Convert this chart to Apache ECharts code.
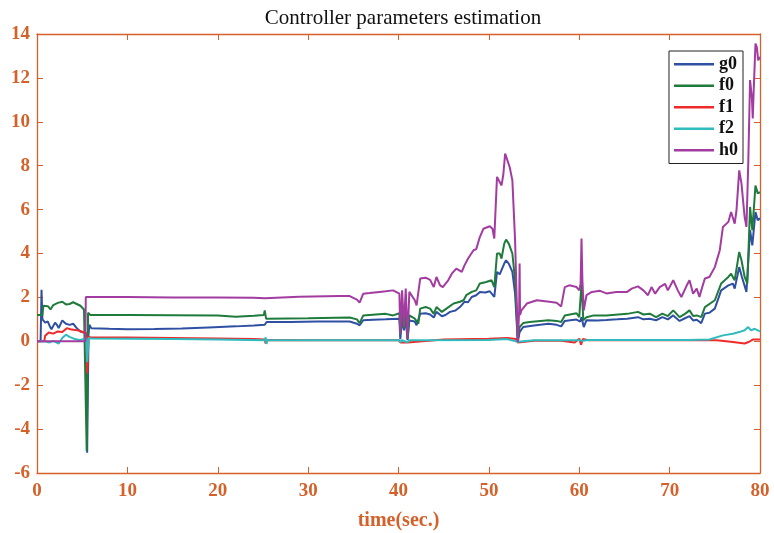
<!DOCTYPE html>
<html>
<head>
<meta charset="utf-8">
<script src="https://cdn.jsdelivr.net/npm/echarts@6/dist/echarts.min.js"></script>
<style>html,body{margin:0;padding:0;background:#fff}#c{width:774px;height:533px}</style>
</head>
<body>
<div id="c"></div>
<script>
const seriesNames = ['g0','f0','f1','f2','h0'];
const xTicks = [0,10,20,30,40,50,60,70,80];
const yTicks = [-6,-4,-2,0,2,4,6,8,10,12,14];

const g0 = [[0,0],[0.4,0],[0.5,2.35],[0.6,1.0],[0.9,0.85],[1.2,0.9],[1.4,0.7],[1.6,0.55],[2.0,0.85],[2.2,0.75],[2.4,0.6],[2.8,0.95],[3.2,0.8],[3.6,0.75],[4.0,0.8],[4.4,0.6],[4.8,0.45],[5.2,0.4],[5.45,0.35],[5.55,-5.08],[5.7,0.3],[5.8,0.75],[6.0,0.6],[8,0.57],[10,0.55],[13,0.56],[16,0.58],[19,0.63],[22,0.68],[24,0.72],[25.2,0.75],[25.4,0.88],[28,0.88],[31,0.9],[34.6,0.9],[35.4,0.8],[35.7,0.73],[36.1,0.96],[37.2,0.98],[38.6,1.0],[40.1,1.03],[40.2,0.1],[40.4,1.03],[40.6,0.5],[40.8,1.03],[41.0,0.05],[41.2,0.95],[41.8,0.9],[42.0,0.73],[42.4,1.26],[43.0,1.28],[43.5,1.22],[43.9,1.08],[44.2,1.34],[44.8,1.14],[45.2,1.2],[45.7,1.34],[46.3,1.4],[46.8,1.56],[47.3,1.8],[47.7,1.78],[48.1,2.02],[48.6,2.1],[49.0,2.25],[49.6,2.22],[50.1,2.28],[50.6,2.02],[50.9,3.16],[51.2,3.05],[51.7,3.54],[51.9,3.69],[52.2,3.54],[52.6,3.16],[52.9,2.17],[53.2,-0.03],[53.4,0.42],[53.8,0.65],[55.0,0.72],[56.6,0.8],[57.5,0.75],[58.0,0.68],[58.4,0.93],[59.0,0.96],[59.7,0.99],[60.1,0.9],[60.25,1.1],[60.5,0.65],[60.8,0.96],[62,0.95],[63,0.97],[64.2,1.0],[65.3,1.03],[66.5,1.1],[67.1,1.0],[67.8,1.03],[68.5,0.96],[69.2,1.1],[69.8,1.0],[70.4,1.18],[71.1,0.93],[71.7,1.05],[72.2,1.15],[72.6,0.95],[73.0,0.98],[73.5,0.83],[73.9,1.26],[74.4,1.3],[75.0,1.49],[75.7,2.32],[76.5,2.55],[77.0,2.63],[77.2,2.4],[77.7,3.38],[78.0,2.93],[78.5,2.25],[78.9,5.06],[79.15,4.37],[79.5,5.89],[79.75,5.52],[80,5.6]];

const f0 = [[0,1.2],[0.6,1.2],[0.7,1.62],[1.2,1.6],[1.5,1.45],[1.8,1.65],[2.3,1.75],[2.8,1.8],[3.2,1.68],[3.6,1.7],[4.0,1.78],[4.4,1.7],[4.8,1.62],[5.2,1.45],[5.4,1.38],[5.5,-5.0],[5.65,1.3],[5.9,1.2],[10,1.2],[15,1.19],[20,1.18],[22,1.12],[24,1.16],[25.1,1.2],[25.2,1.41],[25.35,1.03],[30,1.05],[34.6,1.08],[35.4,1.0],[35.7,0.83],[36.1,1.18],[37.5,1.22],[38.6,1.25],[39.4,1.18],[40.1,1.28],[40.2,0.35],[40.4,1.28],[40.6,0.6],[40.8,1.25],[41.0,0.12],[41.2,1.18],[41.8,1.03],[42.2,0.8],[42.4,1.49],[43.0,1.56],[43.5,1.49],[43.9,1.25],[44.2,1.56],[44.8,1.34],[45.3,1.49],[46.1,1.72],[46.8,1.8],[47.2,1.87],[47.5,2.1],[48.1,2.25],[48.6,2.32],[49.0,2.63],[49.7,2.7],[50.3,2.78],[50.6,2.47],[50.9,4.0],[51.2,4.0],[51.4,3.77],[51.7,4.45],[51.9,4.63],[52.2,4.45],[52.6,4.0],[52.9,2.78],[53.2,0.05],[53.4,0.65],[53.8,0.83],[54.5,0.88],[56.6,0.96],[57.5,0.93],[58.0,0.88],[58.4,1.18],[59.7,1.28],[60.0,1.1],[60.25,2.63],[60.45,0.96],[60.8,1.1],[61.6,1.18],[63,1.18],[65.3,1.25],[66.5,1.34],[67.1,1.22],[67.8,1.26],[68.5,1.1],[69.2,1.26],[69.8,1.15],[70.4,1.41],[71.1,1.1],[71.7,1.25],[72.2,1.41],[72.6,1.15],[73.0,1.18],[73.5,1.1],[73.9,1.56],[75.0,1.87],[75.7,2.63],[76.5,2.93],[76.8,3.08],[77.2,2.78],[77.7,4.07],[77.95,3.69],[78.3,2.93],[78.6,2.63],[78.9,6.12],[79.15,5.06],[79.5,7.1],[79.75,6.74],[80,6.8]];

const f1 = [[0,0],[0.8,0],[0.9,0.25],[1.3,0.4],[1.8,0.35],[2.3,0.45],[2.8,0.42],[3.3,0.6],[3.7,0.55],[4.2,0.52],[4.7,0.48],[5.2,0.4],[5.45,0.38],[5.55,-1.46],[5.7,0.2],[6,0.17],[10,0.17],[15,0.15],[20,0.13],[24,0.1],[25.2,0.08],[25.3,-0.1],[25.4,0.06],[30,0.05],[40,0.05],[40.2,-0.05],[41,-0.05],[45,0.08],[50,0.12],[52,0.15],[53,0.1],[53.2,-0.05],[55,0.03],[58,0.02],[59.5,-0.05],[60,0.12],[60.2,-0.15],[60.4,0.1],[61,0.05],[70,0.05],[75.2,0.05],[77,-0.03],[78.3,-0.1],[78.8,-0.02],[79.2,0.08],[80,0.08]];

const f2 = [[0,0],[0.8,0],[0.9,0.05],[1.4,-0.05],[1.8,0.02],[2.4,-0.1],[2.8,0.15],[3.2,0.3],[3.6,0.2],[4.2,0.1],[4.8,0.05],[5.2,0.12],[5.45,0.12],[5.55,-0.95],[5.7,0.15],[6,0.13],[10,0.12],[15,0.1],[20,0.08],[25.2,0.05],[25.3,0.18],[25.4,-0.12],[25.5,0.05],[40.1,0.05],[40.2,-0.05],[40.4,0.05],[41,-0.05],[41.2,0.05],[50,0.06],[52,0.1],[53.2,-0.02],[55,0.05],[60,0.05],[60.2,0.12],[60.4,0.02],[61,0.06],[72,0.06],[74.4,0.08],[75.9,0.27],[77.0,0.34],[77.7,0.42],[78.3,0.5],[78.7,0.65],[79.0,0.5],[79.4,0.57],[80,0.45]];

const h0 = [[0,0],[5.35,0],[5.4,2.02],[10,2.02],[15,2.0],[20,2.0],[24,1.98],[25.2,1.96],[25.4,2.0],[29,2.03],[33.5,2.06],[34.6,2.06],[35.4,1.9],[35.7,1.76],[36.1,2.17],[36.8,2.2],[37.9,2.25],[38.6,2.28],[39.4,2.32],[40.1,2.17],[40.2,0.35],[40.4,2.32],[40.6,0.65],[40.8,2.4],[41.0,0.12],[41.2,2.25],[41.8,1.87],[42.0,1.64],[42.4,2.86],[43.0,2.9],[43.5,2.8],[43.9,2.47],[44.2,2.93],[44.6,2.55],[44.9,2.47],[45.5,2.78],[45.9,3.08],[46.4,3.31],[47.0,3.16],[47.3,3.46],[47.7,3.77],[48.3,4.15],[48.6,4.2],[49.0,4.75],[49.4,5.13],[50.1,5.24],[50.4,5.13],[50.6,4.68],[50.9,7.49],[51.1,7.56],[51.4,7.1],[51.6,7.6],[51.8,8.55],[52.0,8.5],[52.3,7.94],[52.6,7.33],[52.9,4.6],[53.1,1.56],[53.2,-0.03],[53.35,1.4],[53.4,3.54],[53.45,1.2],[53.6,1.41],[54.2,1.72],[55.3,1.87],[56.7,1.8],[57.5,1.76],[58.0,1.59],[58.4,2.47],[58.9,2.55],[59.7,2.47],[60.0,2.32],[60.15,2.62],[60.25,4.68],[60.35,2.77],[60.5,1.41],[60.8,2.1],[61.4,2.25],[62.3,2.3],[63.0,2.18],[64.1,2.25],[65.3,2.25],[65.8,2.4],[66.5,2.5],[67.1,2.32],[67.6,2.1],[68.0,2.47],[68.4,2.17],[68.9,2.47],[69.5,2.62],[69.8,2.32],[70.4,2.78],[70.9,2.32],[71.3,2.02],[71.9,2.55],[72.2,2.78],[72.6,2.17],[73.0,2.4],[73.3,2.02],[73.5,2.32],[73.9,2.86],[74.4,2.93],[75.0,3.38],[75.55,4.15],[75.9,5.21],[76.5,5.44],[76.8,5.89],[77.2,5.36],[77.4,5.97],[77.7,7.79],[77.95,7.18],[78.3,5.66],[78.5,5.21],[78.7,8.1],[78.9,11.9],[79.1,11.1],[79.2,10.15],[79.3,11.4],[79.5,13.56],[79.65,13.4],[79.8,12.8],[80,12.95]];

const seriesData = [g0, f0, f1, f2, h0];
const colors = ['#2f4fa3', '#1f7b3b', '#ee2a2a', '#2fbcbf', '#a23ca0'];
const axisColor = '#d4602a';
const serif = '"Liberation Serif", "DejaVu Serif", serif';

const chart = echarts.init(document.getElementById('c'));
const baseX = {
  type: 'value', min: xTicks[0], max: xTicks[xTicks.length-1], interval: 10,
  axisLine: { show: true, onZero: false, lineStyle: { color: axisColor, width: 1.3 } },
  axisTick: { show: true, inside: true, length: 6, lineStyle: { color: axisColor } },
  splitLine: { show: false }
};
const baseY = {
  type: 'value', min: yTicks[0], max: yTicks[yTicks.length-1], interval: 2,
  axisLine: { show: true, onZero: false, lineStyle: { color: axisColor, width: 1.3 } },
  axisTick: { show: true, inside: true, length: 6, lineStyle: { color: axisColor } },
  splitLine: { show: false }
};
chart.setOption({
  animation: false,
  backgroundColor: '#fff',
  title: {
    text: 'Controller parameters estimation', left: 398, textAlign: 'center', top: 3,
    textStyle: { fontFamily: serif, fontWeight: 'normal', fontSize: 21, color: '#111' }
  },
  grid: { left: 37, right: 14, top: 34, bottom: 60, containLabel: false, outerBoundsMode: 'none' },
  legend: {
    orient: 'vertical', right: 31, top: 51,
    data: seriesNames,
    icon: 'rect',
    backgroundColor: '#fff', borderColor: '#222', borderWidth: 1,
    padding: [3, 5, 3, 5], itemGap: 1, itemWidth: 40, itemHeight: 2.5,
    textStyle: { fontFamily: serif, fontWeight: 'bold', fontSize: 18, color: '#111', lineHeight: 20.5, padding: [0,0,0,0] }
  },
  xAxis: [
    Object.assign({}, baseX, {
      position: 'bottom',
      name: 'time(sec.)', nameLocation: 'middle', nameGap: 38,
      nameTextStyle: { fontFamily: serif, fontWeight: 'bold', fontSize: 20, color: axisColor },
      axisLabel: { margin: 9, fontFamily: serif, fontWeight: 'bold', fontSize: 19, color: axisColor }
    }),
    Object.assign({}, baseX, { position: 'top', axisLabel: { show: false } })
  ],
  yAxis: [
    Object.assign({}, baseY, {
      position: 'left',
      axisLabel: { margin: 7, fontFamily: serif, fontWeight: 'bold', fontSize: 19, color: axisColor }
    }),
    Object.assign({}, baseY, { position: 'right', axisLabel: { show: false } })
  ],
  series: seriesNames.map((n, i) => ({
    name: n, type: 'line', data: seriesData[i], symbol: 'none', showSymbol: false,
    color: colors[i], itemStyle: { color: colors[i] },
    lineStyle: { width: 2, color: colors[i] }, xAxisIndex: 0, yAxisIndex: 0
  }))
});
</script>
</body>
</html>
